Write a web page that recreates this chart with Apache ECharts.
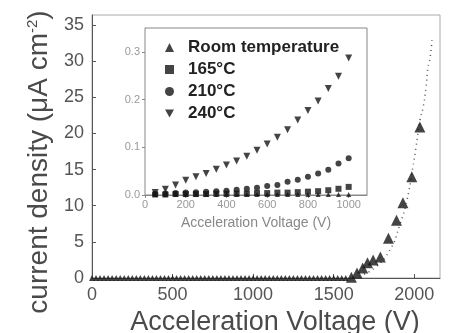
<!DOCTYPE html>
<html>
<head>
<meta charset="utf-8">
<script src="https://cdn.jsdelivr.net/npm/echarts@6/dist/echarts.min.js"></script>
<style>
  html, body { margin: 0; padding: 0; background: #fff; }
  #chart { width: 451px; height: 333px; }
</style>
</head>
<body>
<div id="chart"></div>
<script>
// main plot, room temperature (V, uA/cm2)
var rtFlatVolt = [0,25,50,75,100,125,150,175,200,225,250,275,300,325,350,375,400,425,450,475,
  500,525,550,575,600,625,650,675,700,725,750,775,800,825,850,875,900,925,950,975,
  1000,1025,1050,1075,1100,1125,1150,1175,1200,1225,1250,1275,1300,1325,1350,1375,1400,1425,1450,1475,
  1500,1525,1550,1575];
var rtFlatCurrent = [0,0,0,0,0,0,0,0,0,0,0,0,0,0,0,0,0,0,0,0,
  0,0,0,0,0,0,0,0,0,0,0,0,0,0,0,0,0,0,0,0,
  0,0,0,0,0,0,0,0,0,0,0,0,0,0,0,0,0,0,0,0,
  0,0,0,0];
var rtRiseVolt = [1610,1645,1680,1710,1745,1790,1840,1890,1930,1985,2035];
var rtRiseCurrent = [0.1,0.7,1.4,2.1,2.5,2.9,5.5,8.0,10.4,14.0,20.9];
// dotted fit curve
var fitVolt = [1660,1755,1850,1910,1955,1992,2011,2036,2054,2073,2085,2098,2110];
var fitCurrent = [0.3,1.4,3.9,7.3,10.8,15.4,18.1,21.9,23.5,26.3,29.1,30.4,32.9];

// inset
var insetVolt = [50,100,150,200,250,300,350,400,450,500,550,600,650,700,750,800,850,900,950,1000];
var insetRT = [0.001,0.001,0.001,0.001,0.001,0.001,0.001,0.001,0.001,0.001,0.001,0.001,0.001,0.001,0.001,0.001,0.001,0.001,0.001,0.001];
var inset165 = [0.001,0.001,0.002,0.002,0.002,0.002,0.003,0.003,0.003,0.003,0.004,0.004,0.005,0.005,0.006,0.007,0.008,0.010,0.013,0.017];
var inset210 = [0.002,0.003,0.004,0.005,0.006,0.007,0.008,0.009,0.011,0.013,0.015,0.019,0.021,0.028,0.032,0.038,0.045,0.053,0.066,0.077];
var inset240 = [0.005,0.012,0.021,0.031,0.038,0.045,0.054,0.063,0.071,0.081,0.094,0.107,0.121,0.137,0.157,0.177,0.197,0.223,0.249,0.287];

var legendNames = ['Room temperature', '165°C', '210°C', '240°C'];

function pairs(xs, ys) {
  var out = [];
  for (var i = 0; i < xs.length; i++) out.push([xs[i], ys[i]]);
  return out;
}

var downTri = 'path://M0,0 L10,0 L5,9 Z';
var ink = '#151515';
var font = 'Liberation Sans, Arial, sans-serif';
var plain = function (v) { return String(v); };

var chart = echarts.init(document.getElementById('chart'));
var option = {
  backgroundColor: '#fff',
  animation: false,
  textStyle: { fontFamily: font },
  grid: [
    { left: 92, right: 11, top: 15, bottom: 55, show: true, borderColor: '#aaa', borderWidth: 1,
      outerBoundsMode: 'none' },
    { left: 145, right: 84, top: 28, bottom: 138, show: true, borderColor: '#888', borderWidth: 1,
      backgroundColor: '#fff', z: 3, outerBoundsMode: 'none' }
  ],
  legend: {
    orient: 'vertical',
    left: 160,
    top: 34,
    itemWidth: 9,
    itemHeight: 9,
    itemGap: 5,
    z: 10,
    textStyle: { fontSize: 17, fontWeight: 'bold', color: '#222', padding: [0, 0, 0, 9] },
    data: legendNames
  },
  xAxis: [{
    gridIndex: 0, type: 'value', min: 0, max: 2160, interval: 500,
    axisLine: { lineStyle: { color: '#555' } },
    axisTick: { inside: true, length: 4, lineStyle: { color: '#555' } },
    axisLabel: { fontSize: 18, color: '#555', margin: 8, showMaxLabel: false, formatter: plain },
    splitLine: { show: false },
    name: 'Acceleration Voltage (V)', nameLocation: 'middle', nameGap: 29,
    nameTextStyle: { fontSize: 27, color: '#4a4a4a', padding: [0, 0, 0, 18] }
  }, {
    gridIndex: 1, type: 'value', min: 0, max: 1090, interval: 200,
    axisLine: { lineStyle: { color: '#888' } },
    axisTick: { length: 3, lineStyle: { color: '#888' } },
    axisLabel: { fontSize: 11, color: '#999', margin: 4, showMaxLabel: false, formatter: plain },
    splitLine: { show: false },
    name: 'Acceleration Voltage (V)', nameLocation: 'middle', nameGap: 21,
    nameTextStyle: { fontSize: 14, color: '#888' }
  }],
  yAxis: [{
    gridIndex: 0, type: 'value', min: 0, max: 36.4, interval: 5,
    axisLine: { show: true, lineStyle: { color: '#555' } },
    axisTick: { show: true, inside: true, length: 4, lineStyle: { color: '#555' } },
    axisLabel: { fontSize: 18, color: '#555', margin: 8, showMaxLabel: false },
    splitLine: { show: false },
    name: '{a|current density (μA cm}{s|-2}{a|)}', nameLocation: 'middle', nameGap: 35,
    nameTextStyle: {
      padding: [0, 31, 0, 0],
      rich: {
        a: { fontSize: 28, color: '#4a4a4a', fontFamily: font },
        s: { fontSize: 15, color: '#4a4a4a', fontFamily: font, verticalAlign: 'top', padding: [0, 0, 11, 0] }
      }
    }
  }, {
    gridIndex: 1, type: 'value', min: 0, max: 0.35, interval: 0.1,
    axisLine: { show: true, lineStyle: { color: '#888' } },
    axisTick: { show: true, length: 3, lineStyle: { color: '#888' } },
    axisLabel: { fontSize: 11, color: '#999', margin: 5, showMaxLabel: false,
      formatter: function (v) { return v.toFixed(1); } },
    splitLine: { show: false }
  }],
  series: [{
    name: 'fit', type: 'line', xAxisIndex: 0, yAxisIndex: 0,
    data: pairs(fitVolt, fitCurrent), smooth: true, showSymbol: false,
    lineStyle: { color: '#555', width: 1.5, type: [1, 4] }, z: 1
  }, {
    name: 'Room temperature', type: 'scatter', xAxisIndex: 0, yAxisIndex: 0,
    data: pairs(rtFlatVolt, rtFlatCurrent), symbol: 'triangle', symbolSize: 6,
    itemStyle: { color: ink }
  }, {
    name: 'Room temperature', type: 'scatter', xAxisIndex: 0, yAxisIndex: 0,
    data: pairs(rtRiseVolt, rtRiseCurrent), symbol: 'triangle', symbolSize: 11,
    itemStyle: { color: ink }
  }, {
    name: 'Room temperature', type: 'scatter', xAxisIndex: 1, yAxisIndex: 1,
    data: pairs(insetVolt, insetRT), symbol: 'triangle', symbolSize: 5,
    itemStyle: { color: ink }, z: 5
  }, {
    name: '165°C', type: 'scatter', xAxisIndex: 1, yAxisIndex: 1,
    data: pairs(insetVolt, inset165), symbol: 'rect', symbolSize: 6,
    itemStyle: { color: ink }, z: 5
  }, {
    name: '210°C', type: 'scatter', xAxisIndex: 1, yAxisIndex: 1,
    data: pairs(insetVolt, inset210), symbol: 'circle', symbolSize: 6,
    itemStyle: { color: ink }, z: 5
  }, {
    name: '240°C', type: 'scatter', xAxisIndex: 1, yAxisIndex: 1,
    data: pairs(insetVolt, inset240), symbol: downTri, symbolSize: 7,
    itemStyle: { color: ink }, z: 5
  }]
};
chart.setOption(option);
</script>
</body>
</html>
